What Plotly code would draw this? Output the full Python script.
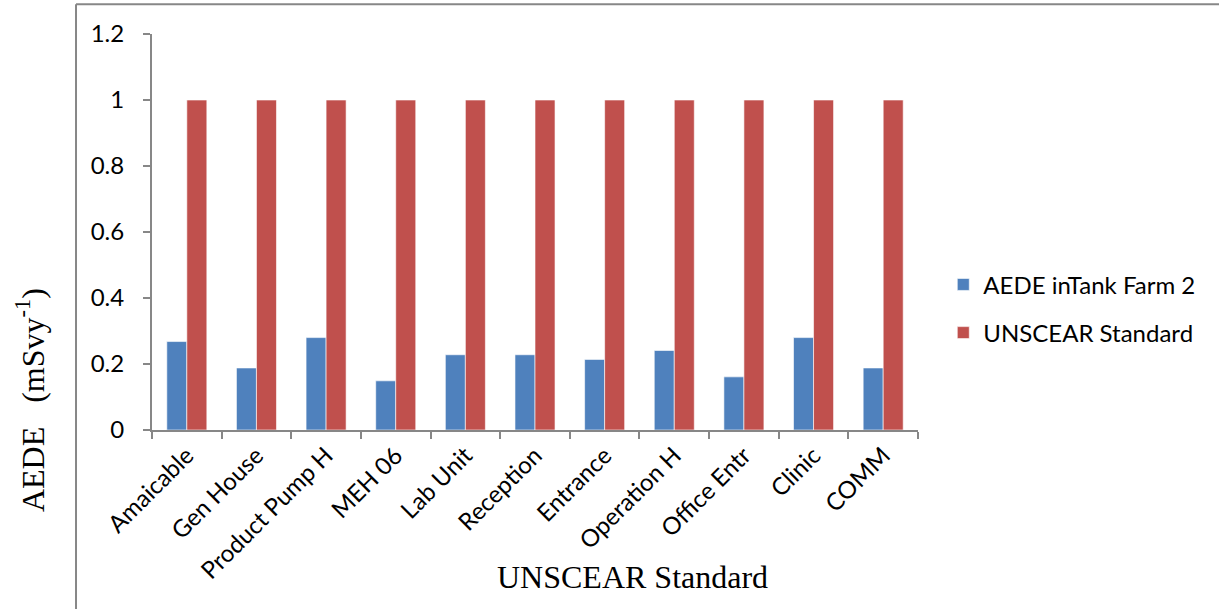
import plotly.graph_objects as go

categories = ["Amaicable", "Gen House", "Product Pump H", "MEH 06", "Lab Unit",
              "Reception", "Entrance", "Operation H", "Office Entr", "Clinic", "COMM"]
aede_tank_farm_2 = [0.268, 0.188, 0.280, 0.149, 0.228, 0.228, 0.214, 0.241, 0.161, 0.280, 0.188]
unscear_standard = [1, 1, 1, 1, 1, 1, 1, 1, 1, 1, 1]
y_ticks = [0, 0.2, 0.4, 0.6, 0.8, 1, 1.2]

BLUE = "#4F81BD"
RED = "#C0504D"
AXIS = "#878787"
SANS = "Lato, 'Open Sans', sans-serif"
SERIF = "'Liberation Serif', 'Times New Roman', serif"

fig = go.Figure()
fig.add_trace(go.Bar(x=categories, y=aede_tank_farm_2, name="AEDE inTank Farm 2",
                     marker=dict(color=BLUE, line=dict(color="rgba(255,255,255,0.6)", width=1)),
                     legendgroup="a"))
fig.add_trace(go.Bar(x=categories, y=unscear_standard, name="UNSCEAR Standard",
                     marker=dict(color=RED, line=dict(color="rgba(255,255,255,0.6)", width=1)),
                     legendgroup="b"))

fig.update_layout(
    width=1219, height=609,
    margin=dict(l=152, r=301, t=34, b=179),
    paper_bgcolor="white", plot_bgcolor="white",
    barmode="group", bargap=0.425, bargroupgap=0,
    font=dict(family=SANS, size=24, color="black"),
    showlegend=True,
    legend=dict(x=1.033, y=0.306, xanchor="left", yanchor="middle",
                font=dict(family=SANS, size=24, color="black"),
                tracegroupgap=14, itemwidth=30, traceorder="grouped"),
    xaxis=dict(showline=True, linecolor=AXIS, linewidth=2,
               ticks="outside", tickcolor=AXIS, ticklen=7, tickwidth=2,
               tickson="boundaries", tickangle=-45,
               tickfont=dict(family=SANS, size=24), showgrid=False),
    yaxis=dict(range=[0, 1.2], tickvals=y_ticks,
               ticktext=["0", "0.2", "0.4", "0.6", "0.8", "1", "1.2"],
               showline=True, linecolor=AXIS, linewidth=2,
               ticks="outside", tickcolor=AXIS, ticklen=7, tickwidth=2,
               ticklabelstandoff=14,
               tickfont=dict(family=SANS, size=24), showgrid=False, zeroline=False),
    shapes=[
        dict(type="line", xref="paper", yref="paper", x0=-0.0992, x1=-0.0992,
             y0=-0.46, y1=1.075, line=dict(color=AXIS, width=2)),
        dict(type="line", xref="paper", yref="paper", x0=-0.0992, x1=1.40,
             y0=1.075, y1=1.075, line=dict(color=AXIS, width=2)),
    ],
    annotations=[
        dict(text="UNSCEAR Standard", xref="paper", yref="paper",
             x=0.627, y=-0.372, xanchor="center", yanchor="middle", showarrow=False,
             font=dict(family=SERIF, size=32, color="black")),
        dict(text="AEDE   (mSvy<sup>-1</sup>)", xref="paper", yref="paper",
             x=-0.159, y=0.076, xanchor="center", yanchor="middle", showarrow=False,
             textangle=-90, font=dict(family=SERIF, size=32, color="black")),
    ],
)

fig.write_html("out.html")
